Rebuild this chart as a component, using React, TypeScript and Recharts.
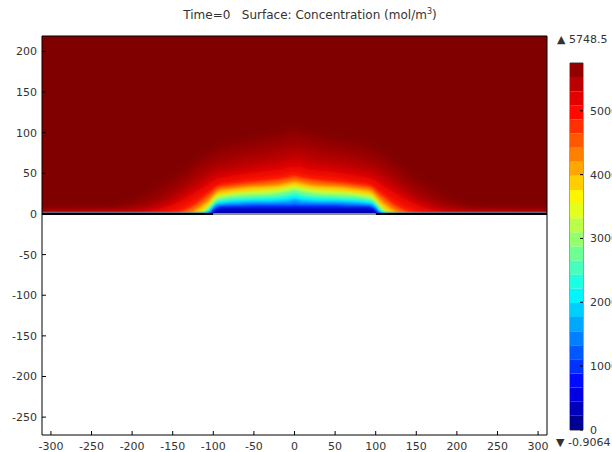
import React from 'react';
import { ComposedChart, Area, Line, XAxis, YAxis, BarChart, Bar, ReferenceArea } from 'recharts';

const FONT = '"DejaVu Sans", Verdana, sans-serif';
const TEXT = '#333';

// colour range of the concentration field (mol/m^3)
const C_MIN = -0.9064;
const C_MAX = 5748.5;
const COLOR_STEPS = 26;
const colorbarTicks = [0, 1000, 2000, 3000, 4000, 5000];

// geometry window
const X_DOMAIN: [number, number] = [-311, 311];
const Y_DOMAIN: [number, number] = [-272, 219];
const xTicks = [-300, -250, -200, -150, -100, -50, 0, 50, 100, 150, 200, 250, 300];
const yTicks = [-250, -200, -150, -100, -50, 0, 50, 100, 150, 200];

// boundary segments along y = 0
const insulatedLeft = [-311, -100];
const electrode = [-100, 100];
const insulatedRight = [100, 311];

// sample positions for the right half; the field is symmetric about x = 0
const halfX = [0, 5, 15, 30, 50, 70, 85, 95, 100, 103, 107, 112, 120, 130, 145, 165, 190, 230, 311];

// iso-concentration levels and the height of each iso-line above the surface at halfX
const levels = [600, 1200, 1800, 2400, 3000, 3600, 4200, 4700, 5100, 5350, 5550, 5680];
const iso600 = [7, 7, 7, 7, 7, 7, 7, 6, 3, 0, 0, 0, 0, 0, 0, 0, 0, 0, 0];
const iso1200 = [12, 11, 11, 11, 11, 10, 10, 9, 5, 1, 0, 0, 0, 0, 0, 0, 0, 0, 0];
const iso1800 = [18, 17, 16, 15, 15, 14, 13, 12, 8, 4, 1, 0, 0, 0, 0, 0, 0, 0, 0];
const iso2400 = [24, 23, 21, 20, 19, 18, 17, 15, 11, 7, 3, 0, 0, 0, 0, 0, 0, 0, 0];
const iso3000 = [30, 29, 27, 25, 24, 23, 21, 19, 14, 10, 6, 2, 0, 0, 0, 0, 0, 0, 0];
const iso3600 = [35, 34, 32, 30, 29, 27, 25, 23, 18, 14, 10, 5, 1, 0, 0, 0, 0, 0, 0];
const iso4200 = [40, 39, 37, 35, 34, 32, 30, 28, 23, 20, 16, 12, 6, 1, 0, 0, 0, 0, 0];
const iso4700 = [46, 45, 43, 41, 39, 37, 35, 33, 29, 26, 23, 19, 13, 7, 1, 0, 0, 0, 0];
const iso5100 = [56, 55, 52, 50, 48, 45, 42, 40, 37, 35, 32, 29, 24, 18, 10, 3, 0, 0, 0];
const iso5350 = [70, 68, 65, 62, 59, 55, 52, 50, 47, 45, 43, 40, 35, 28, 18, 8, 1, 0, 0];
const iso5550 = [86, 84, 81, 78, 74, 70, 66, 63, 61, 59, 57, 54, 48, 40, 29, 17, 6, 0, 0];
const iso5680 = [104, 101, 98, 94, 90, 86, 82, 79, 77, 75, 73, 70, 64, 56, 45, 32, 18, 4, 0];
const isoHeights = [iso600, iso1200, iso1800, iso2400, iso3000, iso3600, iso4200, iso4700, iso5100, iso5350, iso5550, iso5680];

function jet(t: number) {
  const c = (v: number) => Math.round(255 * Math.min(1, Math.max(0, v)));
  const r = 1.5 - Math.abs(4 * t - 3);
  const g = 1.5 - Math.abs(4 * t - 2);
  const b = 1.5 - Math.abs(4 * t - 1);
  return `rgb(${c(r)},${c(g)},${c(b)})`;
}

const norm = (v: number) => (v - C_MIN) / (C_MAX - C_MIN);

// mirror the half profile into full rows
const xs = [...halfX.slice(1).reverse().map((v) => -v), ...halfX];
const rows = xs.map((x) => {
  const i = halfX.indexOf(Math.abs(x));
  const row: Record<string, number> = { x, ceil: Y_DOMAIN[1], floor: 0 };
  isoHeights.forEach((h, k) => {
    row[`l${k}`] = h[i];
  });
  return row;
});

// each band is filled with the colour of its mid concentration
const bandColor = levels.map((lv, k) => jet(norm(((k === 0 ? 0 : levels[k - 1]) + lv) / 2)));

const segment = (pair: number[]) => pair.map((x) => ({ x, y: 0 }));

const colorbarRow = [
  Object.fromEntries([['name', 'c'], ...Array.from({ length: COLOR_STEPS }, (_, i) => [`b${i}`, (C_MAX - C_MIN) / COLOR_STEPS])]),
];

const tickStyle = { fill: TEXT, fontSize: 11, fontFamily: FONT };

export default function App() {
  return (
    <div style={{ position: 'absolute', left: 0, top: 0, width: 612, height: 452, background: '#fff', fontFamily: FONT, overflow: 'hidden' }}>
      <div style={{ position: 'absolute', left: 0, top: 7, width: 620, textAlign: 'center', fontSize: 12, color: TEXT, whiteSpace: 'pre' }}>
        {'Time=0   Surface: Concentration (mol/m'}
        <sup style={{ fontSize: 8 }}>3</sup>
        {')'}
      </div>

      <ComposedChart width={612} height={452} data={rows} margin={{ top: 35, right: 64, bottom: 0, left: 0 }}>
        <defs>
          <filter id="softSm" x="-20%" y="-60%" width="140%" height="220%">
            <feGaussianBlur stdDeviation="1.7" />
          </filter>
          <filter id="softLg" x="-20%" y="-60%" width="140%" height="220%">
            <feGaussianBlur stdDeviation="4" />
          </filter>
        </defs>
        <Area dataKey="ceil" type="linear" baseValue={0} fill={jet(1)} fillOpacity={1} stroke="none" dot={false} activeDot={false} isAnimationActive={false} />
        {levels
          .map((_, k) => k)
          .reverse()
          .map((k) => (
            <Area
              key={k}
              dataKey={`l${k}`}
              type="monotone"
              baseValue={-6}
              filter={levels[k] > 5000 ? 'url(#softLg)' : 'url(#softSm)'}
              fill={bandColor[k]}
              fillOpacity={1}
              stroke="none"
              dot={false}
              activeDot={false}
              isAnimationActive={false}
            />
          ))}
        <Area dataKey="floor" type="linear" baseValue={Y_DOMAIN[0]} fill="#fff" fillOpacity={1} stroke="none" dot={false} activeDot={false} isAnimationActive={false} />
        <Line data={segment(insulatedLeft)} dataKey="y" stroke="#000" strokeWidth={2} dot={false} activeDot={false} isAnimationActive={false} />
        <Line data={segment(insulatedRight)} dataKey="y" stroke="#000" strokeWidth={2} dot={false} activeDot={false} isAnimationActive={false} />
        <Line data={segment(electrode)} dataKey="y" stroke="#8c8c8c" strokeWidth={2} dot={false} activeDot={false} isAnimationActive={false} />

        <XAxis dataKey="x" type="number" domain={X_DOMAIN} ticks={xTicks} interval={0} allowDataOverflow height={17} tickSize={-4} tickMargin={11} stroke="#000" tick={tickStyle} />
        <XAxis xAxisId="top" orientation="top" type="number" domain={X_DOMAIN} ticks={xTicks} interval={0} allowDataOverflow height={1} tickSize={-4} stroke="#000" tick={false} />
        <YAxis type="number" domain={Y_DOMAIN} ticks={yTicks} interval={0} allowDataOverflow width={42} tickSize={-4} tickMargin={9} stroke="#000" tick={tickStyle} />
        <YAxis yAxisId="right" orientation="right" type="number" domain={Y_DOMAIN} ticks={yTicks} interval={0} allowDataOverflow width={1} tickSize={-4} stroke="#000" tick={false} />
      </ComposedChart>

      <div style={{ position: 'absolute', left: 548, top: 0 }}>
        <BarChart width={64} height={452} data={colorbarRow} margin={{ top: 63, right: 0, bottom: 22, left: 22 }} barCategoryGap={0}>
          <XAxis dataKey="name" hide />
          <YAxis orientation="right" type="number" domain={[C_MIN, C_MAX]} ticks={colorbarTicks} interval={0} allowDataOverflow width={29} tickSize={-3} tickMargin={10} stroke="#000" axisLine={false} tick={tickStyle} />
          {Array.from({ length: COLOR_STEPS }, (_, i) => (
            <Bar key={i} dataKey={`b${i}`} stackId="cb" fill={jet((i + 0.5) / COLOR_STEPS)} isAnimationActive={false} />
          ))}
          <ReferenceArea y1={C_MIN} y2={C_MAX} fill="none" stroke="#444" strokeWidth={1} />
        </BarChart>
      </div>

      <div style={{ position: 'absolute', left: 557, top: 33, fontSize: 11, color: TEXT, whiteSpace: 'pre' }}>{'\u25B2 5748.5'}</div>
      <div style={{ position: 'absolute', left: 556, top: 436, fontSize: 11, color: TEXT, whiteSpace: 'pre' }}>{'\u25BC -0.9064'}</div>
    </div>
  );
}
